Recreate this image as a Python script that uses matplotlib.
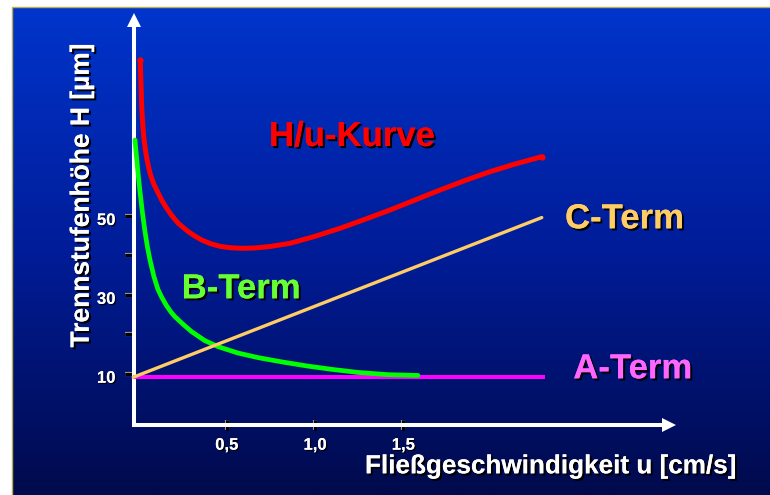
import numpy as np
import matplotlib
matplotlib.use('Agg')
import matplotlib.pyplot as plt
from matplotlib import patheffects as pe
from matplotlib.transforms import ScaledTranslation
from matplotlib.colors import LinearSegmentedColormap
from matplotlib.lines import Line2D

plt.rcParams['font.family'] = ['Liberation Sans', 'DejaVu Sans']
plt.rcParams['font.weight'] = 'bold'

# ---------------- data ----------------
hu_u = [0.0108, 0.0130, 0.0159, 0.0187, 0.0221, 0.0249, 0.0283, 0.0317, 0.0402,
        0.0487, 0.0572, 0.0657, 0.0844, 0.1036, 0.1336, 0.1620, 0.1903, 0.2242,
        0.2525, 0.2826, 0.3205, 0.3584, 0.4054, 0.4620, 0.5187, 0.5849, 0.6602,
        0.7452, 0.8584, 1.0000, 1.1416, 1.2832, 1.4247, 1.5663, 1.7078, 1.8494,
        1.9909, 2.1325, 2.2837]
hu_H = [89.56, 86.27, 81.95, 77.89, 75.10, 73.20, 71.17, 69.52, 66.61,
        64.32, 62.55, 60.90, 58.36, 56.59, 53.90, 51.82, 50.04, 48.22,
        47.13, 46.01, 44.90, 43.91, 43.02, 42.31, 41.95, 41.80, 41.88,
        42.26, 43.07, 44.84, 46.87, 49.16, 51.52, 54.05, 56.59, 59.00,
        61.23, 63.18, 65.03]

b_u = [-0.0193, -0.0108, -0.0023, 0.0091, 0.0232, 0.0374, 0.0515, 0.0657, 0.0883,
       0.1110, 0.1336, 0.1591, 0.1846, 0.2072, 0.2525, 0.3018, 0.3754, 0.4507,
       0.5640, 0.6772, 0.8188, 0.9604, 1.1019, 1.2435, 1.4134, 1.5832]
b_H = [69.27, 65.03, 61.05, 56.16, 50.73, 46.01, 42.05, 38.83, 34.57,
       31.35, 29.27, 27.27, 25.62, 24.45, 22.55, 20.65, 18.41, 16.87,
       15.24, 14.08, 12.94, 11.92, 11.06, 10.32, 9.75, 9.56]

a_u = [-0.028, 2.30]
a_H = [9.2, 9.2]

c_u = [-0.029, 2.284]
c_H = [9.1, 49.6]

x_ticks = [0.5, 1.0, 1.5]
x_ticklabels = ['0,5', '1,0', '1,5']
y_ticks = [10, 20, 30, 40, 50]
y_ticklabels = ['10', '', '30', '', '50']

label_hu = 'H/u-Kurve'
label_b = 'B-Term'
label_c = 'C-Term'
label_a = 'A-Term'
x_title = 'Fließgeschwindigkeit u [cm/s]'
y_title = 'Trennstufenhöhe H [µm]'

# ---------------- figure ----------------
W, Hpx = 770, 495
fig = plt.figure(figsize=(7.7, 4.95), dpi=100, facecolor='white')


def fx(px):
    return px / W


def fy(py):
    return 1 - py / Hpx


# gradient background
bg = fig.add_axes([fx(11.7), 0, 1 - fx(11.7), fy(6.7)])
grad = np.linspace(0, 1, 256).reshape(-1, 1)
cmap = LinearSegmentedColormap.from_list('bg', ['#0035CC', '#001C98', '#000A4C'])
bg.imshow(grad, aspect='auto', cmap=cmap, extent=[0, 1, 0, 1], origin='upper')
bg.set_axis_off()
fig.add_artist(Line2D([fx(11.7), fx(11.7), 1], [0, fy(6.7), fy(6.7)],
                      color='#B8B050', lw=1.0))

shadow = [pe.withSimplePatchShadow(offset=(1.5, -1.5), shadow_rgbFace='black', alpha=1.0),
          pe.Normal()]
small_shadow = [pe.withSimplePatchShadow(offset=(1.0, -1.0), shadow_rgbFace='black', alpha=0.9),
                pe.Normal()]

ax = fig.add_axes([fx(133.5), fy(425.3), fx(661.7) - fx(133.5), fy(27) - fy(425.3)])
ax.set_facecolor('none')
ax.set_xlim(-0.0277, 2.963)
ax.set_ylim(-3.09, 97.93)
for s in ['top', 'right']:
    ax.spines[s].set_visible(False)
for s in ['left', 'bottom']:
    ax.spines[s].set_color('white')
    ax.spines[s].set_linewidth(2.9)
    ax.spines[s].set_capstyle('projecting')
    ax.spines[s].set_zorder(2)

# arrowheads
off_x = ScaledTranslation(6.9 / 100, 0, fig.dpi_scale_trans)
off_y = ScaledTranslation(0, 6.9 / 100, fig.dpi_scale_trans)
ax.plot([1], [0], marker='>', ms=10, color='white', mew=0,
        transform=ax.transAxes + off_x, clip_on=False)
ax.plot([0], [1], marker='^', ms=10, color='white', mew=0,
        transform=ax.transAxes + off_y, clip_on=False)

ax.set_xticks(x_ticks, x_ticklabels)
ax.set_yticks(y_ticks, y_ticklabels)
ax.tick_params(axis='x', direction='inout', length=7.2, width=2.2, color='black',
               pad=5.3, labelsize=12, labelcolor='white')
ax.tick_params(axis='y', direction='out', length=6.1, width=2.2, color='black',
               pad=7.0, labelsize=12, labelcolor='white')
stroke = [pe.withStroke(linewidth=3.0, foreground='#9a9a9a'), pe.Normal()]
for t in ax.xaxis.get_major_ticks() + ax.yaxis.get_major_ticks():
    t.tick1line.set_path_effects(stroke)
for lab in ax.get_xticklabels() + ax.get_yticklabels():
    lab.set_path_effects(small_shadow)
ydown = ScaledTranslation(0, -3 / 100, fig.dpi_scale_trans)
for lab in ax.get_yticklabels():
    lab.set_transform(lab.get_transform() + ydown)

# curves
ax.plot(a_u, a_H, color='#FF00FF', lw=2.9, solid_capstyle='butt', zorder=3, clip_on=False)
ax.plot(b_u, b_H, color='#00FF00', lw=3.4, solid_capstyle='round',
        solid_joinstyle='round', zorder=4, clip_on=False)
ax.plot(c_u, c_H, color='#FFCC66', lw=2.4, solid_capstyle='round', zorder=5, clip_on=False)
ax.plot(hu_u, hu_H, color='#FF0000', lw=3.6, solid_capstyle='round',
        solid_joinstyle='round', zorder=6, clip_on=False)
ax.plot([hu_u[0], hu_u[-1]], [hu_H[0], hu_H[-1]], 'o', color='#FF0000', ms=4.5,
        mew=0, zorder=6, clip_on=False)

# labels
fig.text(fx(269.0), fy(146), label_hu, color='#FF0000', fontsize=25,
         ha='left', va='baseline', path_effects=shadow)
fig.text(fx(181.7), fy(298.3), label_b, color='#66FF33', fontsize=25,
         ha='left', va='baseline', path_effects=shadow)
fig.text(fx(565.0), fy(228.3), label_c, color='#FFCC66', fontsize=25,
         ha='left', va='baseline', path_effects=shadow)
fig.text(fx(573.3), fy(378.3), label_a, color='#FF66FF', fontsize=25,
         ha='left', va='baseline', path_effects=shadow)

fig.text(fx(81.7), fy(195.5), y_title, rotation=90, color='white', fontsize=19,
         ha='center', va='center', path_effects=shadow)
fig.text(fx(365.0), fy(473.3), x_title, color='white', fontsize=18.8,
         ha='left', va='baseline', path_effects=shadow)

fig.savefig('out.png', dpi=100, facecolor='white')
